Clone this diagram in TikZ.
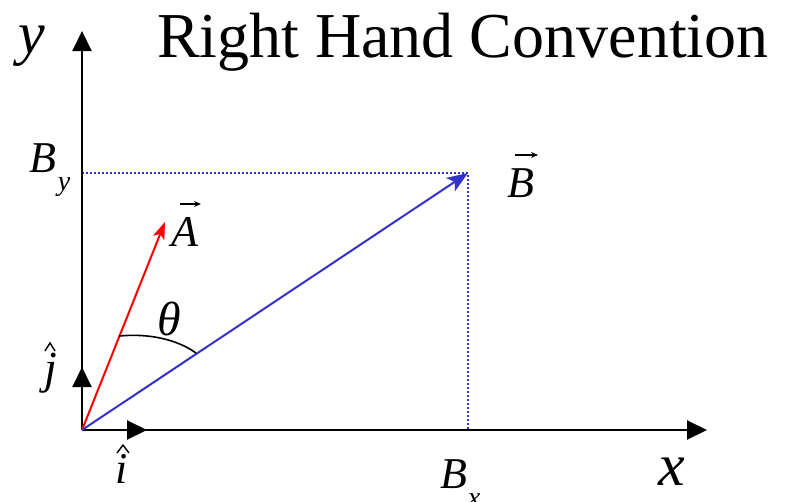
\documentclass[tikz,border=0pt]{standalone}
\usepackage{fontspec}
\setmainfont{Liberation Serif}
\usetikzlibrary{arrows.meta}
\definecolor{vblue}{RGB}{51,51,204}
\newcommand\fsz[1]{\fontsize{#1}{#1}\selectfont}
\begin{document}
\begin{tikzpicture}[x=1pt,y=-1pt,
  axisline/.style={line width=2pt,-{Triangle[length=20pt,width=19pt]}},
  lbl/.style={inner sep=0pt,outer sep=0pt},
  vecacc/.style={line width=1.3pt,-{Stealth[length=7pt,width=6pt]}},
  hatacc/.style={line width=1.4pt,line join=miter},
  dotline/.style={vblue,line width=1.6pt,dash pattern=on 1.6pt off 2.4pt}]
\useasboundingbox (0,0) rectangle (789,501);
% points
\coordinate (O) at (82,430);
\coordinate (ytip) at (82,31);
\coordinate (xtip) at (707,430);
\coordinate (jtip) at (82,367);
\coordinate (itip) at (147,430);
\coordinate (Atip) at (165,222);
\coordinate (Btip) at (468,173);
\coordinate (By) at (82,173);
\coordinate (Bx) at (468,430);
\coordinate (t1) at (119,336);
\coordinate (t2) at (196,353);
% dotted projections
\draw[dotline] (By) -- (Btip) -- (Bx);
% axes
\draw[axisline] (O) -- (ytip);
\draw[axisline] (O) -- (xtip);
\draw[axisline] (O) -- (jtip);
\draw[axisline] (O) -- (itip);
% vectors
\draw[red,line width=2pt,-{Stealth[length=17pt,width=12pt,inset=4pt]}] (O) -- (Atip);
\draw[vblue,line width=2pt,-{Stealth[length=21pt,width=16pt,inset=5pt]}] (O) -- (Btip);
% angle
\draw[line width=1.6pt] (t1) .. controls (150,333) and (178,340) .. (t2);
% labels
\node[lbl,anchor=base west] (title) at (157,57) {\fsz{64}Right Hand Convention};
\node[lbl,anchor=base] (ylab) at (32,53) {\fsz{60}\itshape y};
\node[lbl,anchor=base] (xlab) at (672,485) {\fsz{60}\itshape x};
\node[lbl,anchor=base west] (Bylab) at (29,172) {{\fsz{44}\itshape B}\hspace{2pt}\raisebox{-18pt}{\fsz{28}\itshape y}};
\node[lbl,anchor=base west] (Bxlab) at (440,488) {{\fsz{44}\itshape B}\hspace{1pt}\raisebox{-18pt}{\fsz{28}\itshape x}};
\node[lbl,anchor=base west] (Alab) at (171,246) {\fsz{44}\itshape A};
\node[lbl,anchor=base west] (Blab) at (507,197) {\fsz{44}\itshape B};
\node[lbl,anchor=base west] (thlab) at (157,335) {\fsz{48}\itshape θ};
\node[lbl,anchor=base] (jlab) at (51,383) {\fsz{46}\itshape j};
\node[lbl,anchor=base] (ilab) at (122,483) {\fsz{44}\itshape i};
% accents
\draw[vecacc] ([shift={(9,-42)}]Alab.base west) -- ([shift={(30,-42)}]Alab.base west);
\draw[vecacc] ([shift={(8,-42)}]Blab.base west) -- ([shift={(31,-42)}]Blab.base west);
\draw[hatacc] ([shift={(-6,-32)}]jlab.base) -- ([shift={(-1,-40)}]jlab.base) -- ([shift={(4,-32)}]jlab.base);
\draw[hatacc] ([shift={(-5,-30)}]ilab.base) -- ([shift={(1,-38)}]ilab.base) -- ([shift={(7,-30)}]ilab.base);
\end{tikzpicture}
\end{document}
